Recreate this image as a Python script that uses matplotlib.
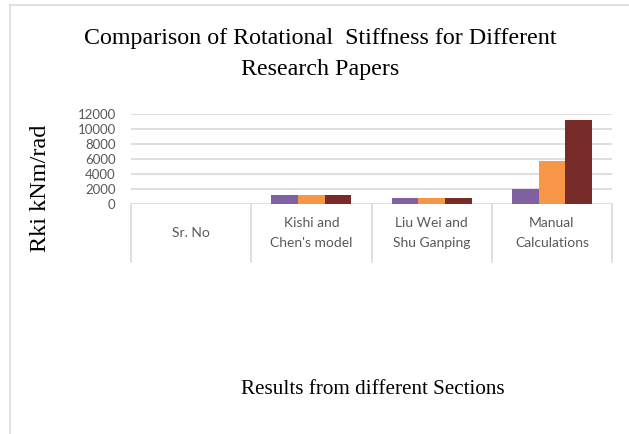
import matplotlib.pyplot as plt
import numpy as np

categories = ["Sr. No", "Kishi and\nChen's model", "Liu Wei and\nShu Ganping", "Manual\nCalculations"]
series_a = [1, 1300, 800, 2000]
series_b = [2, 1300, 800, 5800]
series_c = [3, 1300, 800, 11200]
yticks = [0, 2000, 4000, 6000, 8000, 10000, 12000]

colors = ["#7f60a0", "#f79646", "#772c2a"]
grid_col = "#d9d9d9"
txt_col = "#595959"

W, H = 629, 434
fig = plt.figure(figsize=(W / 100, H / 100), dpi=100)

# light frame round the whole chart (only top and left show)
fig.add_artist(plt.Line2D([10 / W, 10 / W], [0, 1 - 5 / H], color="#dcdcdc", lw=1.2))
fig.add_artist(plt.Line2D([10 / W, 1], [1 - 5 / H, 1 - 5 / H], color="#dcdcdc", lw=1.2))

left, right = 131, 612
bottom, top = 204.5, 114.3
ax = fig.add_axes([left / W, 1 - bottom / H, (right - left) / W, (bottom - top) / H])

x = np.arange(len(categories))
w = 1 / 4.5
for i, vals in enumerate([series_a, series_b, series_c]):
    ax.bar(x + (i - 1) * w, vals, width=w, color=colors[i], edgecolor="none", zorder=3)

ax.set_xlim(-0.5, len(categories) - 0.5)
ax.set_ylim(0, 12000)
ax.set_yticks(yticks)
ax.set_yticklabels([str(t) for t in yticks], fontsize=9.5, color=txt_col, family="Lato")
ax.tick_params(axis="y", length=0, pad=11)
ax.set_xticks([])
for s in ax.spines.values():
    s.set_visible(False)
for t in yticks:
    ax.axhline(t, color=grid_col, lw=1.2, zorder=1)

# category table under the axis
trans = ax.get_xaxis_transform()
ybot = -(262 - bottom) / (bottom - top)
for b in np.arange(len(categories) + 1) - 0.5:
    ax.plot([b, b], [0, ybot], color=grid_col, lw=1.2, transform=trans, clip_on=False)
ylab = -(233 - bottom) / (bottom - top)
for xi, lab in zip(x, categories):
    ax.text(xi, ylab, lab, transform=trans, ha="center", va="center", fontsize=10,
            color=txt_col, family="Lato", linespacing=1.85)

fig.text(320 / W, 1 - 54 / H, "Comparison of Rotational  Stiffness for Different\nResearch Papers",
         ha="center", va="center", fontsize=17.3, family="Liberation Serif", linespacing=1.6)
fig.text(41 / W, 1 - 188 / H, "Rki kNm/rad", rotation=90, ha="center", va="center",
         fontsize=17.5, family="Liberation Serif")
fig.text(373 / W, 1 - 390 / H, "Results from different Sections", ha="center", va="center",
         fontsize=15.2, family="Liberation Serif")

fig.savefig("out.png", dpi=100)
